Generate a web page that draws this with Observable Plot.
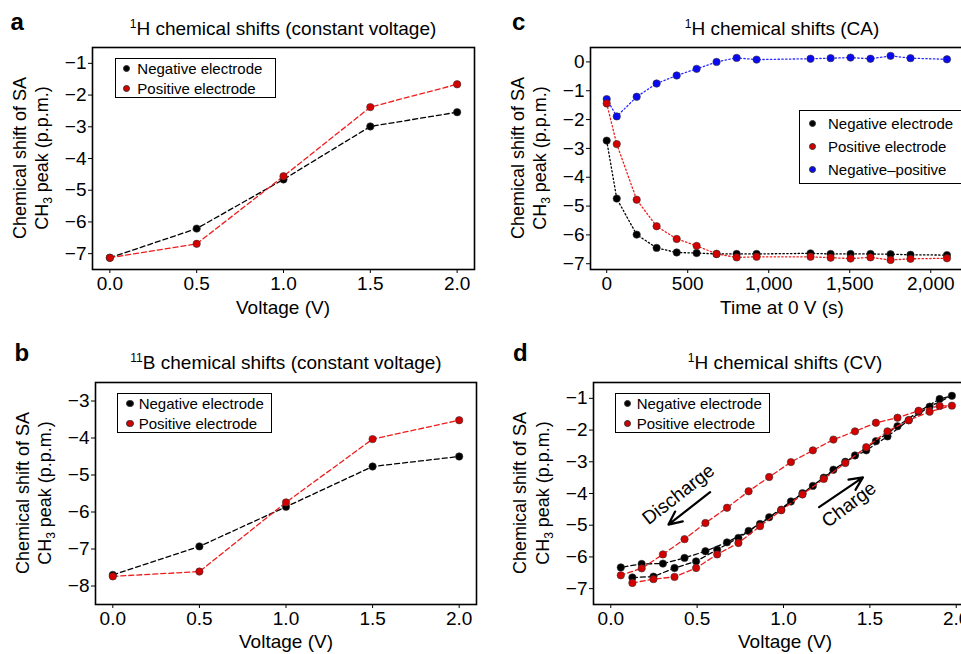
<!DOCTYPE html>
<html>
<head>
<meta charset="utf-8">
<script src="https://cdn.jsdelivr.net/npm/d3@7"></script>
<script src="https://cdn.jsdelivr.net/npm/@observablehq/plot@0.6"></script>
<style>
html, body { margin: 0; padding: 0; background: #fff; overflow: hidden; width: 961px; height: 654px; }
#root { position: relative; width: 961px; height: 654px; overflow: hidden; font-family: "Liberation Sans", Arial, sans-serif; color: #000; }
.abs { position: absolute; white-space: nowrap; }
.box { position: absolute; box-sizing: border-box; border: 1.5px solid #000; background: #fff; }
.mk { position: absolute; box-sizing: border-box; width: 7.5px; height: 7.5px; border-radius: 50%; border: 0.7px solid #333; }
sub.s { font-size: 12px; vertical-align: -4px; line-height: 0; }
sup.s { font-size: 12px; position: relative; top: -7px; line-height: 0; vertical-align: baseline; }
</style>
</head>
<body>
<div id="root"></div>
<script>
// ---------- data ----------
// Panel a: 1H chemical shifts (constant voltage)
const voltA = [0.0, 0.5, 1.0, 1.5, 2.0];
const negA = [-7.13, -6.21, -4.66, -2.99, -2.54];
const posA = [-7.13, -6.69, -4.56, -2.38, -1.66];
const yTicksA = [-1, -2, -3, -4, -5, -6, -7];

// Panel b: 11B chemical shifts (constant voltage)
const voltB = [0.0, 0.5, 1.0, 1.5, 2.0];
const negB = [-7.70, -6.93, -5.86, -4.77, -4.50];
const posB = [-7.74, -7.61, -5.74, -4.03, -3.52];
const yTicksB = [-3, -4, -5, -6, -7, -8];

const voltTicks = [0, 0.5, 1.0, 1.5, 2.0];

// Panel c: 1H chemical shifts (CA)
const timeC = [0, 62, 185, 308, 432, 555, 678, 802, 925, 1258, 1382, 1505, 1628, 1752, 1875, 2100];
const negC = [-2.73, -4.74, -5.99, -6.45, -6.61, -6.63, -6.66, -6.66, -6.66, -6.64, -6.66, -6.66, -6.66, -6.67, -6.69, -6.70];
const posC = [-1.44, -2.85, -4.78, -5.70, -6.14, -6.38, -6.66, -6.78, -6.76, -6.76, -6.79, -6.82, -6.78, -6.87, -6.83, -6.81];
const diffC = [-1.29, -1.89, -1.21, -0.75, -0.47, -0.24, 0.00, 0.14, 0.08, 0.11, 0.13, 0.15, 0.11, 0.21, 0.13, 0.09];
const xTicksC = [0, 500, 1000, 1500, 2000];
const yTicksC = [0, -1, -2, -3, -4, -5, -6, -7];

// Panel d: 1H chemical shifts (CV)
const chargeV = [0.125, 0.247, 0.369, 0.494, 0.616, 0.739, 0.864, 0.987, 1.110, 1.233, 1.358, 1.479, 1.602, 1.725, 1.846, 1.975];
const dischargeV = [1.904, 1.782, 1.660, 1.535, 1.414, 1.289, 1.170, 1.043, 0.917, 0.798, 0.673, 0.548, 0.427, 0.302, 0.179, 0.058];
const negCharge = [-6.65, -6.62, -6.35, -6.14, -5.77, -5.40, -4.96, -4.51, -3.99, -3.50, -3.00, -2.64, -2.20, -1.69, -1.26, -0.92];
const negDischarge = [-1.02, -1.42, -1.88, -2.35, -2.80, -3.25, -3.76, -4.25, -4.75, -5.18, -5.54, -5.82, -6.03, -6.21, -6.22, -6.33];
const posCharge = [-6.82, -6.70, -6.63, -6.35, -5.92, -5.56, -5.03, -4.53, -4.03, -3.54, -3.04, -2.54, -2.04, -1.69, -1.42, -1.23];
const posDischarge = [-1.24, -1.39, -1.61, -1.77, -2.04, -2.30, -2.64, -3.01, -3.48, -3.93, -4.45, -4.93, -5.44, -5.92, -6.36, -6.58];
const yTicksD = [-1, -2, -3, -4, -5, -6, -7];

// Panel d annotations (data coordinates)
const annoLabels = ["Discharge", "Charge"];
const annoTextV = [0.392, 1.379];
const annoTextY = [-4.03, -4.35];
const annoRotate = [-38, -37];
const arrowV1 = [0.575, 1.206];
const arrowY1 = [-3.96, -4.43];
const arrowV2 = [0.334, 1.460];
const arrowY2 = [-4.98, -3.49];

const legendAB = ["Negative electrode", "Positive electrode"];
const legendC = ["Negative electrode", "Positive electrode", "Negative\u2013positive"];

// ---------- styles ----------
const FONT = '"Liberation Sans", Arial, sans-serif';
const BLACK = "#000000";
const RED_FILL = "#d40000";
const RED_LINE = "#ee1c1c";
const BLUE_FILL = "#0a0af0";
const BLUE_LINE = "#2a2aff";

const root = document.getElementById("root");

function rows(xs, ys) { return xs.map((x, i) => ({x, y: ys[i]})); }

function makePlot(o) {
  return Plot.plot({
    width: o.width, height: o.height,
    marginTop: o.m[0], marginRight: o.m[1], marginBottom: o.m[2], marginLeft: o.m[3],
    style: {fontFamily: FONT, fontSize: "19px", color: "black", background: "transparent", maxWidth: "none"},
    x: {domain: o.xDomain, ticks: o.xTicks, tickFormat: o.xFmt, tickSize: 4, tickPadding: 3, label: null},
    y: {domain: o.yDomain, ticks: o.yTicks, tickFormat: d3.format("d"), tickSize: 4, tickPadding: 2, label: null},
    marks: [...o.marks, Plot.frame({stroke: "black", strokeWidth: 1.6})]
  });
}

function series(data, lineColor, fill, dash) {
  return [
    Plot.line(data, {x: "x", y: "y", stroke: lineColor, strokeWidth: 1.3, strokeDasharray: dash}),
    Plot.dot(data, {x: "x", y: "y", r: 3.7, fill: fill, stroke: "#333", strokeWidth: 0.6})
  ];
}

function mount(svg, left, top, w, h) {
  const d = document.createElement("div");
  d.className = "abs";
  d.style.left = left + "px";
  d.style.top = top + "px";
  d.style.width = w + "px";
  d.style.height = h + "px";
  svg.style.maxWidth = "none";
  svg.style.width = w + "px";
  svg.style.height = h + "px";
  d.appendChild(svg);
  root.appendChild(d);
}

function text(html, x, baseline, size, opts = {}) {
  const d = document.createElement("div");
  d.className = "abs";
  d.innerHTML = html;
  d.style.fontSize = size + "px";
  d.style.lineHeight = size + "px";
  d.style.left = x + "px";
  d.style.top = (baseline - 0.8465 * size) + "px";
  if (opts.bold) d.style.fontWeight = "bold";
  if (opts.center) d.style.transform = "translateX(-50%)";
  root.appendChild(d);
}

function ylab(html, cx, cy, size) {
  const d = document.createElement("div");
  d.className = "abs";
  d.innerHTML = html;
  d.style.fontSize = size + "px";
  d.style.lineHeight = size + "px";
  d.style.left = cx + "px";
  d.style.top = cy + "px";
  d.style.transform = "translate(-50%,-50%) rotate(-90deg)";
  root.appendChild(d);
}

function legend(left, top, width, height, mx, tx, ys, labels, colors) {
  const b = document.createElement("div");
  b.className = "box";
  b.style.left = left + "px"; b.style.top = top + "px";
  b.style.width = width + "px"; b.style.height = height + "px";
  root.appendChild(b);
  labels.forEach((lab, i) => {
    const m = document.createElement("div");
    m.className = "mk";
    m.style.background = colors[i];
    m.style.left = (mx - 3.75) + "px";
    m.style.top = (ys[i] - 3.75) + "px";
    root.appendChild(m);
    text(lab, tx, ys[i] + 5.4, 15);
  });
}

const yLine1 = "Chemical shift of SA";
const yLine2 = 'CH<sub class="s">3</sub> peak (p.p.m.)';

// ---------- panel a ----------
mount(makePlot({
  width: 480, height: 330, m: [47, 6, 61, 92],
  xDomain: [-0.1, 2.1], yDomain: [-7.5, -0.5],
  xTicks: voltTicks, yTicks: yTicksA, xFmt: d3.format(".1f"),
  marks: [...series(rows(voltA, negA), BLACK, BLACK, "5,3"), ...series(rows(voltA, posA), RED_LINE, RED_FILL, "5,3")]
}), 0, 0, 480, 330);

// ---------- panel b ----------
mount(makePlot({
  width: 480, height: 324, m: [52, 4, 50, 95],
  xDomain: [-0.1, 2.1], yDomain: [-8.5, -2.5],
  xTicks: voltTicks, yTicks: yTicksB, xFmt: d3.format(".1f"),
  marks: [...series(rows(voltB, negB), BLACK, BLACK, "5,3"), ...series(rows(voltB, posB), RED_LINE, RED_FILL, "5,3")]
}), 0, 330, 480, 324);

// ---------- panel c ----------
mount(makePlot({
  width: 500, height: 330, m: [47, 6, 61, 110],
  xDomain: [-100, 2270], yDomain: [-7.2, 0.5],
  xTicks: xTicksC, yTicks: yTicksC, xFmt: d3.format(","),
  marks: [
    ...series(rows(timeC, diffC), BLUE_LINE, BLUE_FILL, "1.4,2.4"),
    ...series(rows(timeC, negC), BLACK, BLACK, "1.4,2.4"),
    ...series(rows(timeC, posC), RED_LINE, RED_FILL, "1.4,2.4")
  ]
}), 480, 0, 500, 330);

// ---------- panel d ----------
const negD = [...rows(chargeV, negCharge), ...rows(dischargeV, negDischarge)];
const posD = [...rows(chargeV, posCharge), ...rows(dischargeV, posDischarge)];
const annoText = annoLabels.map((t, i) => ({t, x: annoTextV[i], y: annoTextY[i], r: annoRotate[i]}));
const annoArrows = annoLabels.map((t, i) => ({x1: arrowV1[i], y1: arrowY1[i], x2: arrowV2[i], y2: arrowY2[i]}));
mount(makePlot({
  width: 500, height: 324, m: [52, 7, 50, 113],
  xDomain: [-0.1, 2.1], yDomain: [-7.5, -0.5],
  xTicks: voltTicks, yTicks: yTicksD, xFmt: d3.format(".1f"),
  marks: [
    ...series(negD, BLACK, BLACK, "5,3"),
    ...series(posD, RED_LINE, RED_FILL, "5,3"),
    Plot.arrow(annoArrows, {x1: "x1", y1: "y1", x2: "x2", y2: "y2", stroke: "black", strokeWidth: 2.2, headLength: 10, headAngle: 50}),
    Plot.text(annoText, {x: "x", y: "y", text: "t", rotate: "r", fontSize: 19, fill: "black"})
  ]
}), 480, 330, 500, 324);

// ---------- titles & labels ----------
text("a", 10.5, 30.7, 24, {bold: true});
text("b", 14.5, 361.5, 24, {bold: true});
text("c", 512, 30.7, 24, {bold: true});
text("d", 513, 361.5, 24, {bold: true});

text('<sup class="s">1</sup>H chemical shifts (constant voltage)', 283, 35, 19, {center: true});
text('<sup class="s">11</sup>B chemical shifts (constant voltage)', 286, 369, 19, {center: true});
text('<sup class="s">1</sup>H chemical shifts (CA)', 782, 35, 19, {center: true});
text('<sup class="s">1</sup>H chemical shifts (CV)', 785, 369, 19, {center: true});

text("Voltage (V)", 283, 314.3, 19, {center: true});
text("Voltage (V)", 286, 648.5, 19, {center: true});
text("Time at 0 V (s)", 782, 314.3, 19, {center: true});
text("Voltage (V)", 785, 648.5, 19, {center: true});

ylab(yLine1, 19.5, 158, 18); ylab(yLine2, 42, 158, 18);
ylab(yLine1, 22.5, 493, 18); ylab(yLine2, 45, 493, 18);
ylab(yLine1, 517.5, 158, 18); ylab(yLine2, 539.5, 158, 18);
ylab(yLine1, 520, 493, 18); ylab(yLine2, 543, 493, 18);

// ---------- legends ----------
legend(115, 58, 161, 40, 126.7, 137.3, [68.3, 88.3], legendAB, [BLACK, RED_FILL]);
legend(117, 392.7, 155, 40.6, 130, 138.7, [403.3, 423.3], legendAB, [BLACK, RED_FILL]);
legend(799, 110, 190, 74, 812.3, 828, [123.3, 146.3, 169.5], legendC, [BLACK, RED_FILL, BLUE_FILL]);
legend(615, 392.7, 155, 40, 627.7, 636.7, [403.3, 423.3], legendAB, [BLACK, RED_FILL]);
</script>
</body>
</html>
